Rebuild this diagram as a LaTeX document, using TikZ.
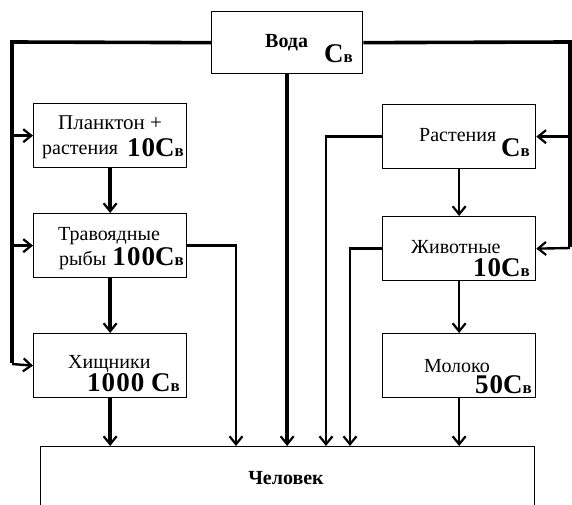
\documentclass[tikz,border=0pt]{standalone}
\usepackage{fontspec}
\setmainfont{Liberation Serif}
\usetikzlibrary{arrows.meta}
\newcommand{\cvb}[1]{{\bfseries\fontsize{#1}{#1}\selectfont С\fontsize{17}{17}\selectfont в}}
\newcommand{\bignum}[1]{{\addfontfeatures{LetterSpace=4}#1}}
\begin{document}
\begin{tikzpicture}[x=1pt,y=-1pt,
  box/.style={draw, line width=1.3pt, rectangle, inner sep=0pt, anchor=north west},
  bx/.style={box, minimum width=153pt, minimum height=64pt},
  main/.style={line width=3.6pt},
  sub/.style={line width=2.4pt},
  arr/.style={-{Straight Barb[length=8pt,width=13pt,line width=2.2pt]}},
  lbl/.style={anchor=base west, inner sep=0pt, font=\fontsize{20}{20}\selectfont},
  big/.style={anchor=base east, inner sep=0pt, font=\bfseries\fontsize{27}{27}\selectfont}]
\clip (0,0) rectangle (572,505);
\fill[white] (0,0) rectangle (572,505);
% boxes
\node[box, minimum width=151pt, minimum height=62pt] (voda) at (211,11) {};
\node[bx] (plank) at (33,103) {};
\node[bx] (trav) at (33,213) {};
\node[bx] (khish) at (33,333) {};
\node[bx] (rast) at (382,104) {};
\node[bx] (zhiv) at (382,216) {};
\node[bx] (molo) at (382,333) {};
\node[box, minimum width=494pt, minimum height=100pt] (chel) at (40,446) {};
% labels
\node[lbl, font=\bfseries\fontsize{20}{20}\selectfont] (tvoda) at (265,48) {Вода};
\node[big] (cvoda) at (353,63) {\cvb{27}};
\node[lbl, font=\fontsize{21}{21}\selectfont] (t1) at (58,130) {Планктон +};
\node[lbl] (t2) at (42,155) {растения};
\node[big] (c1) at (184,157) {\bignum{10}\cvb{27}};
\node[lbl] (t3) at (58,240) {Травоядные};
\node[lbl] (t4) at (59,265) {рыбы};
\node[big] (c2) at (184,265) {\bignum{100}\cvb{27}};
\node[lbl] (t5) at (68,368) {Хищники};
\node[big] (c3) at (180,391) {\bignum{1000} \cvb{27}};
\node[lbl] (t6) at (419,142) {Растения};
\node[big] (c4) at (530,157) {\cvb{27}};
\node[lbl] (t7) at (411,253) {Животные};
\node[big] (c5) at (530,276) {\bignum{10}\cvb{27}};
\node[lbl] (t8) at (424,372) {Молоко};
\node[big] (c6) at (532,393) {\bignum{50}\cvb{27}};
\node[anchor=base, inner sep=0pt, font=\bfseries\fontsize{20}{20}\selectfont] (tchel) at (286,484) {Человек};
% trunk coordinates
\coordinate (ltop) at (12,42);
\coordinate (lbot) at (12,364);
\coordinate (rtop) at (570,42);
\coordinate (rbot) at (570,248);
\coordinate (tr) at (236,244);
\coordinate (rs) at (326,136);
\coordinate (zw) at (350,248);
% water connections
\draw[main] (voda.west) -- (ltop) -- ([yshift=1.2pt]lbot);
\draw[sub, arr] (lbot) -- (khish.west);
\draw[sub, arr] (ltop |- plank.west) -- (plank.west);
\draw[sub, arr] (ltop |- trav.west) -- (trav.west);
\draw[main] (voda.east) -- (rtop) -- ([yshift=1.2pt]rbot);
\draw[sub, arr] (rbot) -- (zhiv.east);
\draw[sub, arr] (rtop |- rast.east) -- (rast.east);
\draw[main, arr] (voda.south) -- (voda.south |- chel.north);
% left chain
\draw[main, arr] (plank.south) -- (trav.north);
\draw[main, arr] (trav.south) -- (khish.north);
\draw[main, arr] (khish.south) -- (khish.south |- chel.north);
\draw[sub, arr] (trav.east) -| (tr |- chel.north);
% right chain
\draw[sub, arr] (rast.south) -- (zhiv.north);
\draw[sub, arr] (zhiv.south) -- (molo.north);
\draw[sub, arr] (molo.south) -- (molo.south |- chel.north);
\draw[sub, arr] (rast.west) -| (rs |- chel.north);
\draw[sub, arr] (zhiv.west) -| (zw |- chel.north);
\end{tikzpicture}
\end{document}
